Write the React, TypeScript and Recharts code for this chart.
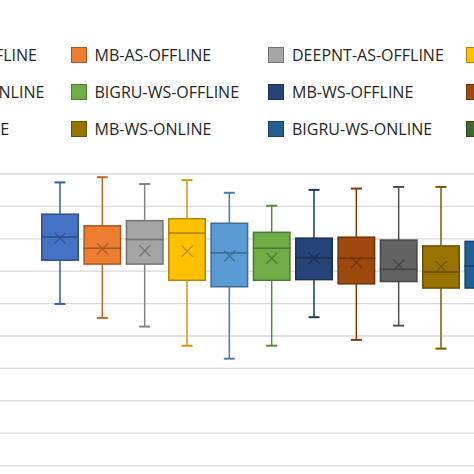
import { ComposedChart, Bar, Line, XAxis, YAxis, CartesianGrid } from 'recharts';

const SERIES = [
  'BIGRU-AS-OFFLINE', 'MB-AS-OFFLINE', 'DEEPNT-AS-OFFLINE', 'BIGRU-AS-ONLINE',
  'DEEPNT-AS-ONLINE', 'BIGRU-WS-OFFLINE', 'MB-WS-OFFLINE', 'DEEPNT-WS-OFFLINE',
  'MB-AS-ONLINE', 'MB-WS-ONLINE', 'BIGRU-WS-ONLINE', 'DEEPNT-WS-ONLINE',
];
const COLORS = [
  '#4472C4', '#ED7D31', '#A5A5A5', '#FFC000', '#5B9BD5', '#70AD47',
  '#264478', '#9E480E', '#636363', '#997300', '#255E91', '#43682B',
];

const MINS = [59.9, 55.6, 52.9, 47.0, 43.0, 47.0, 55.8, 48.8, 53.2, 46.1, 48.0, 47.0];
const Q1S = [73.4, 72.2, 72.2, 67.2, 65.2, 67.2, 67.4, 66.1, 66.8, 64.8, 64.8, 64.0];
const MEDIANS = [80.6, 77.1, 79.8, 81.8, 75.7, 77.1, 74.2, 74.0, 70.6, 69.8, 71.6, 70.0];
const Q3S = [87.6, 84.0, 85.6, 86.2, 84.8, 82.0, 80.2, 80.5, 79.6, 77.8, 79.2, 78.0];
const MAXS = [97.4, 99.0, 96.9, 98.1, 94.2, 90.2, 95.1, 95.5, 96.0, 96.0, 95.0, 94.0];
const MEANS = [80.2, 76.9, 76.3, 76.2, 74.7, 74.0, 74.0, 72.7, 71.9, 71.4, 72.0, 71.0];

const YTICKS = [0, 10, 20, 30, 40, 50, 60, 70, 80, 90, 100];

const data = SERIES.map((name, i) => ({
  name,
  base: MINS[i],
  lowW: Q1S[i] - MINS[i],
  lowBox: MEDIANS[i] - Q1S[i],
  highBox: Q3S[i] - MEDIANS[i],
  highW: MAXS[i] - Q3S[i],
  mean: MEANS[i],
}));

function darken(hex: string, f: number) {
  const n = parseInt(hex.slice(1), 16);
  const r = Math.round(((n >> 16) & 255) * (1 - f));
  const g = Math.round(((n >> 8) & 255) * (1 - f));
  const b = Math.round((n & 255) * (1 - f));
  return `rgb(${r},${g},${b})`;
}

const CAP = 11;

const LowWhisker = (props: any) => {
  const { x, y, width, height, index } = props;
  const cx = x + width / 2;
  const c = darken(COLORS[index], 0.2);
  return (
    <g>
      <line x1={cx} x2={cx} y1={y} y2={y + height} stroke={c} strokeWidth={1.5} />
      <line x1={cx - CAP / 2} x2={cx + CAP / 2} y1={y + height} y2={y + height} stroke={c} strokeWidth={2} />
    </g>
  );
};

const HighWhisker = (props: any) => {
  const { x, y, width, height, index } = props;
  const cx = x + width / 2;
  const c = darken(COLORS[index], 0.2);
  return (
    <g>
      <line x1={cx} x2={cx} y1={y} y2={y + height} stroke={c} strokeWidth={1.5} />
      <line x1={cx - CAP / 2} x2={cx + CAP / 2} y1={y} y2={y} stroke={c} strokeWidth={2} />
    </g>
  );
};

const BoxPart = (props: any) => {
  const { x, y, width, height, index } = props;
  return (
    <rect
      x={x + 0.75}
      y={y}
      width={width - 1.5}
      height={height}
      fill={COLORS[index]}
      stroke={darken(COLORS[index], 0.3)}
      strokeWidth={1.5}
    />
  );
};

const MeanMark = (props: any) => {
  const { cx, cy, index } = props;
  const s = 5.5;
  const c = darken(COLORS[index], 0.3);
  return (
    <g key={`mean-${index}`}>
      <line x1={cx - s} y1={cy - s} x2={cx + s} y2={cy + s} stroke={c} strokeWidth={1.2} />
      <line x1={cx - s} y1={cy + s} x2={cx + s} y2={cy - s} stroke={c} strokeWidth={1.2} />
    </g>
  );
};

function LegendBlock() {
  const rows = [54.5, 91.5, 128.5];
  return (
    <div style={{ position: 'absolute', left: 0, top: 0 }}>
      {SERIES.map((name, i) => (
        <div
          key={name}
          style={{
            position: 'absolute',
            left: -127 + (i % 4) * 197.5,
            top: rows[Math.floor(i / 4)] - 10,
            height: 20,
            display: 'flex',
            alignItems: 'center',
            whiteSpace: 'nowrap',
          }}
        >
          <span
            style={{
              width: 14,
              height: 14,
              background: COLORS[i],
              border: `1px solid ${darken(COLORS[i], 0.3)}`,
              marginRight: 8,
              flex: 'none',
            }}
          />
          <span style={{ fontFamily: '"Open Sans", sans-serif', fontSize: 16, color: '#262626' }}>{name}</span>
        </div>
      ))}
    </div>
  );
}

export default function App() {
  return (
    <div
      style={{
        position: 'fixed',
        left: 0,
        top: 0,
        width: 474,
        height: 474,
        overflow: 'hidden',
        background: '#fff',
      }}
    >
      <LegendBlock />
      <div style={{ position: 'absolute', left: -140, top: 0 }}>
        <ComposedChart
          width={717}
          height={510}
          data={data}
          margin={{ top: 174, right: 10, bottom: 12, left: 60 }}
          barSize={38}
        >
          <CartesianGrid vertical={false} stroke="#d9d9d9" strokeWidth={1.3} />
          <XAxis dataKey="name" hide padding={{ left: 59, right: 20 }} />
          <YAxis
            width={60}
            domain={[0, 100]}
            ticks={YTICKS}
            axisLine={false}
            tickLine={false}
            tick={{ fontSize: 12, fill: '#595959' }}
          />
          <Bar dataKey="base" stackId="b" fill="transparent" isAnimationActive={false} />
          <Bar dataKey="lowW" stackId="b" shape={LowWhisker} isAnimationActive={false} />
          <Bar dataKey="lowBox" stackId="b" shape={BoxPart} isAnimationActive={false} />
          <Bar dataKey="highBox" stackId="b" shape={BoxPart} isAnimationActive={false} />
          <Bar dataKey="highW" stackId="b" shape={HighWhisker} isAnimationActive={false} />
          <Line
            dataKey="mean"
            stroke="none"
            dot={MeanMark}
            activeDot={false}
            isAnimationActive={false}
          />
        </ComposedChart>
      </div>
    </div>
  );
}
